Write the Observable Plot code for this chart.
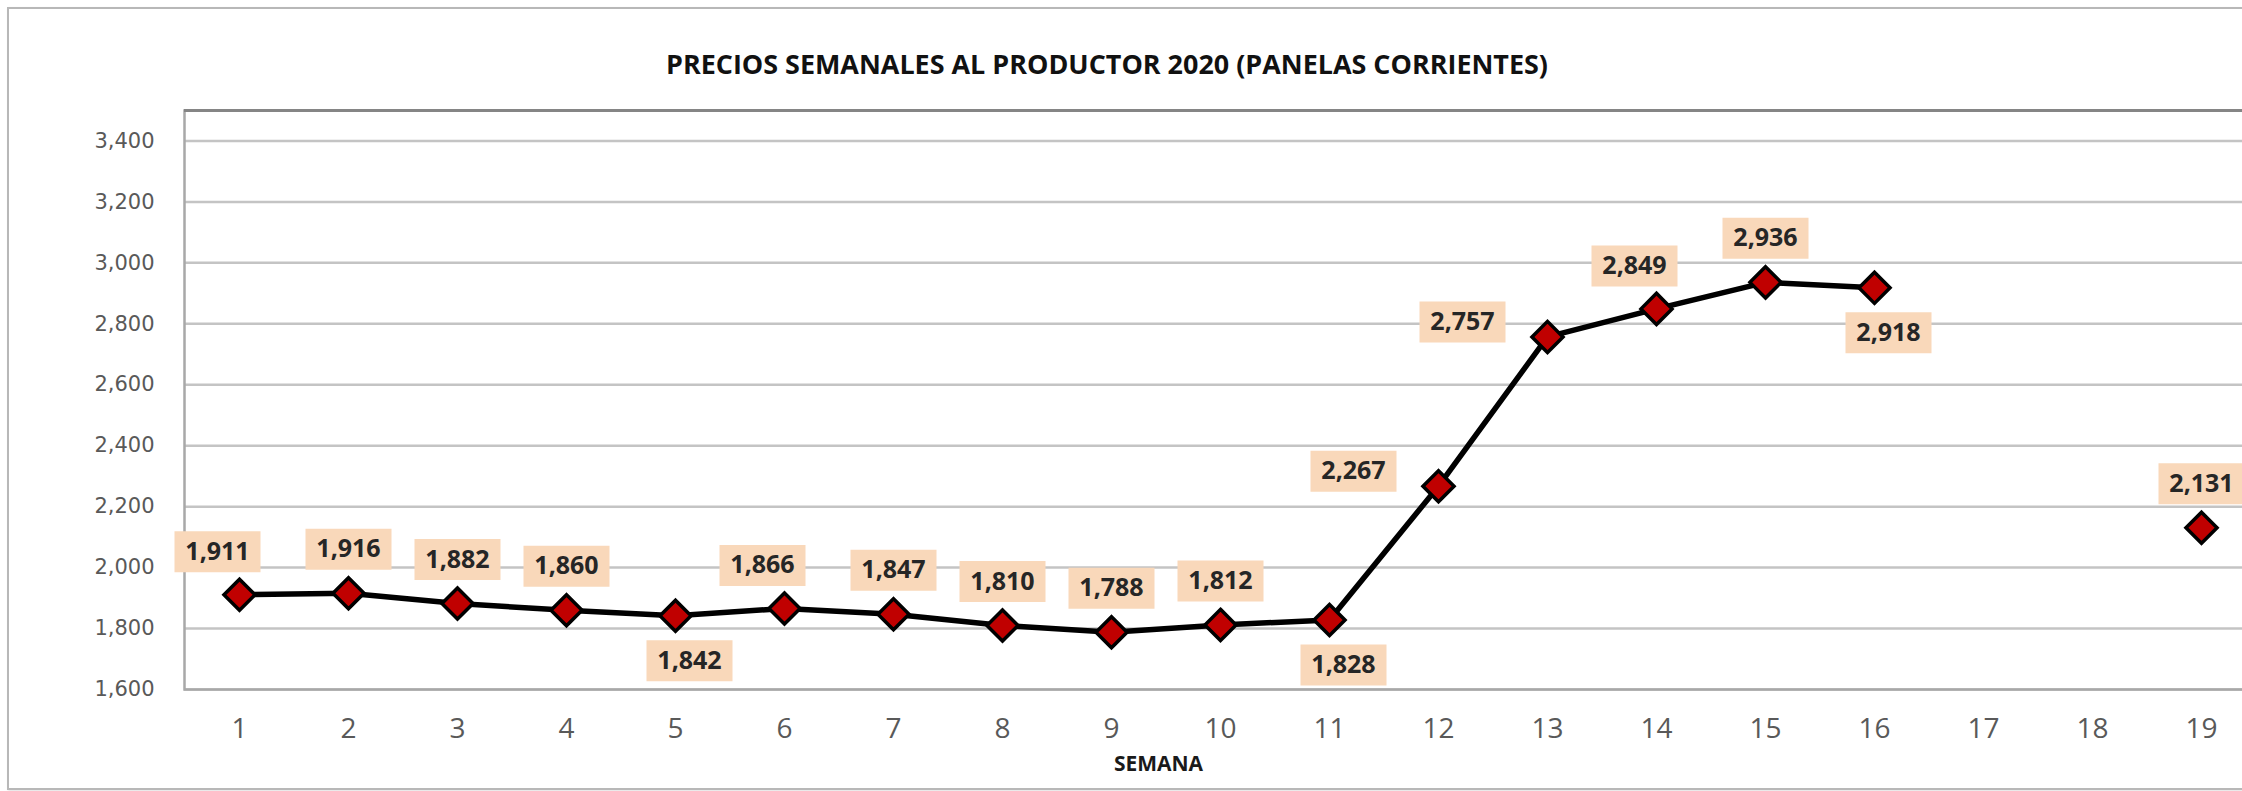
<!DOCTYPE html>
<html>
<head>
<meta charset="utf-8">
<script src="https://cdn.jsdelivr.net/npm/d3@7"></script>
<script src="https://cdn.jsdelivr.net/npm/@observablehq/plot@0.6"></script>
<style>
  html, body { margin: 0; padding: 0; background: #fff; }
  #wrap { position: relative; width: 2242px; height: 791px; overflow: hidden; background: #fff; }
  #title { position: absolute; left: 1107px; top: 64px; white-space: nowrap;
    font-family: "Open Sans", sans-serif; font-weight: 700; font-size: 26px; color: #111;
    transform-origin: center center; }
  #chart { position: absolute; left: 0; top: 100px; }
  #frame { position: absolute; left: 7px; top: 7px; width: 2300px; height: 779px;
    border: 2px solid #b8b8b8; pointer-events: none; box-shadow: 1px 1px 2px rgba(0,0,0,0.12); }
  #chart g[aria-label^="x-axis"] text { font-family: "Open Sans", sans-serif; font-size: 28px; fill: #595959; }
  #chart g[aria-label^="y-axis"] text { font-family: "DejaVu Sans", sans-serif; font-size: 21px; fill: #595959; }
</style>
</head>
<body>
<div id="wrap">
  <div id="title">PRECIOS SEMANALES AL PRODUCTOR 2020 (PANELAS CORRIENTES)</div>
  <div id="chart"></div>
  <div id="frame"></div>
</div>
<script>
// ---- data ----
const weeks  = [1, 2, 3, 4, 5, 6, 7, 8, 9, 10, 11, 12, 13, 14, 15, 16, 17, 18, 19];
const prices = [1911, 1916, 1882, 1860, 1842, 1866, 1847, 1810, 1788, 1812, 1828, 2267, 2757, 2849, 2936, 2918, null, null, 2131];
const yTicks = [1600, 1800, 2000, 2200, 2400, 2600, 2800, 3000, 3200, 3400];
const titleText = "PRECIOS SEMANALES AL PRODUCTOR 2020 (PANELAS CORRIENTES)";
const xLabel = "SEMANA";
// label placement groups (by week)
const labelsBelow = [5, 11, 16];
const labelsLeft = [12, 13];
const labelsAboveLeft = [1, 6, 14];

// ---- build ----
const rows = weeks.map((w, i) => ({week: w, price: prices[i]}));
const pts = rows.filter(d => d.price != null);
const fmt = d3.format(",");
const group = d => labelsBelow.includes(d.week) ? "below"
  : labelsLeft.includes(d.week) ? "left"
  : labelsAboveLeft.includes(d.week) ? "aboveLeft" : "above";
const offsets = {above: [0, -44], aboveLeft: [-22, -43], below: [14, 45], left: [-85, -15]};

const boxSymbol = {draw(ctx) { ctx.rect(-43, -20.5, 86, 41); }};

function labelMarks(g) {
  const data = pts.filter(d => group(d) === g);
  const [dx, dy] = offsets[g];
  return [
    Plot.dot(data, {x: "week", y: "price", symbol: boxSymbol, r: 10, fill: "#F9D8BA", stroke: "none", dx, dy}),
    Plot.text(data, {x: "week", y: "price", text: d => fmt(d.price), dx, dy,
      fontFamily: "Open Sans", fontWeight: "bold", fontSize: 25, fill: "#262626"})
  ];
}

const plot = Plot.plot({
  width: 2242,
  height: 691,
  marginTop: 10,
  marginBottom: 102,
  marginLeft: 184,
  marginRight: -20,
  style: {background: "transparent", fontFamily: "Open Sans", fontSize: "20px"},
  x: {type: "point", domain: weeks, range: [184, 2256], padding: 0.5, align: 0.5,
      tickSize: 0, tickPadding: 29, label: null},
  y: {domain: [1600, 3500], ticks: yTicks, tickFormat: d => fmt(d), tickSize: 0, tickPadding: 30, label: null},
  marks: [
    Plot.ruleY(yTicks, {stroke: "#c4c4c4", strokeWidth: 2.5}),
    Plot.frame({stroke: "#a8a8a8", strokeWidth: 2.5}),
    Plot.ruleY([3500], {stroke: "#858585", strokeWidth: 3}),
    Plot.line(rows, {x: "week", y: "price", stroke: "#000", strokeWidth: 5.5, strokeLinejoin: "round"}),
    Plot.dot(pts, {x: "week", y: "price", symbol: "diamond2", r: 14, fill: "#C00000", stroke: "#000", strokeWidth: 3.5}),
    ...labelMarks("above"),
    ...labelMarks("aboveLeft"),
    ...labelMarks("below"),
    ...labelMarks("left"),
    Plot.text([xLabel], {frameAnchor: "bottom", dx: -65, dy: 75, lineAnchor: "middle",
      fontFamily: "Open Sans", fontWeight: "bold", fontSize: 21, fill: "#1a1a1a"})
  ]
});
document.getElementById("chart").appendChild(plot);

// title fit
const t = document.getElementById("title");
t.textContent = titleText;
const w = t.getBoundingClientRect().width;
const k = 882 / w;
t.style.transform = `translate(-50%, -50%) scaleX(${k})`;
</script>
</body>
</html>
